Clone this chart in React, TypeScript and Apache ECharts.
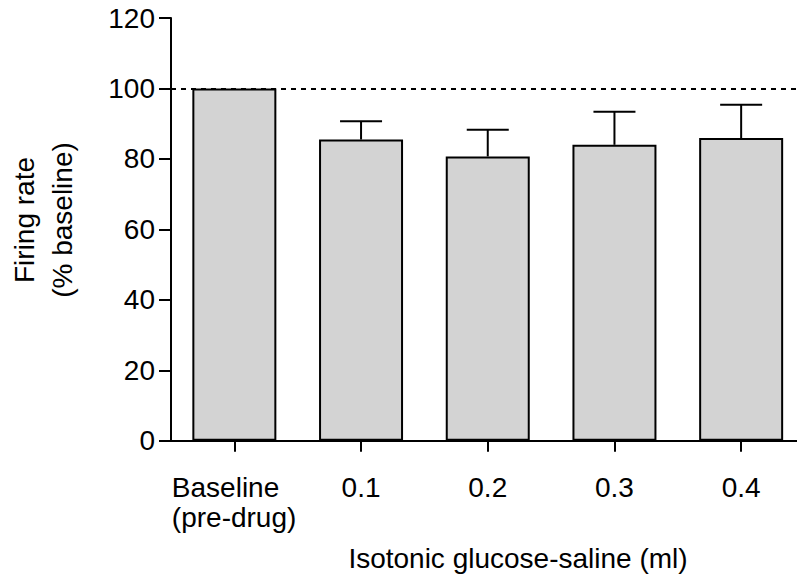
import React, { useEffect, useRef } from "react";
import * as echarts from "echarts";

// Categories along the x axis (first one is the pre-drug baseline)
const categories = ["Baseline\n(pre-drug)", "0.1", "0.2", "0.3", "0.4"];
// Mean firing rate, % of baseline
const meanRate = [100, 85.5, 80.7, 84.0, 85.9];
// Upper error (SEM), % of baseline
const semRate = [0, 5.2, 7.6, 9.4, 9.5];
// Y axis range and step
const yMin = 0;
const yMax = 120;
const yStep = 20;
// Reference level drawn as a dashed line
const baselineLevel = 100;

const FONT = "'Liberation Sans', Arial, Helvetica, sans-serif";

export default function App() {
  const ref = useRef<HTMLDivElement>(null);

  useEffect(() => {
    if (!ref.current) return;
    const chart = echarts.init(ref.current, undefined, { renderer: "svg" });

    const halfCap = 21;

    chart.setOption({
      animation: false,
      backgroundColor: "#ffffff",
      // plot area runs a little past the right edge of the canvas
      grid: {
        left: 171,
        top: 18,
        bottom: 138.3,
        width: 633.5,
        containLabel: false,
        outerBoundsMode: "none",
      },
      xAxis: {
        type: "category",
        data: categories,
        axisLine: { show: true, lineStyle: { color: "#000", width: 2 } },
        axisTick: { show: true, alignWithLabel: true, interval: 0, length: 11, lineStyle: { color: "#000", width: 2 } },
        axisLabel: {
          interval: 0,
          hideOverlap: false,
          color: "#000",
          fontFamily: FONT,
          fontSize: 28,
          lineHeight: 30,
          margin: 32,
          formatter: (v: string) =>
            v.indexOf("\n") >= 0
              ? v
                  .split("\n")
                  .map((s) => `{left|${s}}`)
                  .join("\n")
              : v,
          rich: {
            left: {
              width: 125,
              align: "left",
              fontFamily: FONT,
              fontSize: 28,
              lineHeight: 30,
              color: "#000",
            },
          },
        },
        splitLine: { show: false },
      },
      yAxis: {
        type: "value",
        min: yMin,
        max: yMax,
        interval: yStep,
        axisLine: { show: true, lineStyle: { color: "#000", width: 2 } },
        axisTick: { show: true, length: 12, lineStyle: { color: "#000", width: 2 } },
        axisLabel: { color: "#000", fontFamily: FONT, fontSize: 28, margin: 16 },
        splitLine: { show: false },
      },
      graphic: [
        {
          type: "text",
          x: 43,
          y: 220,
          rotation: Math.PI / 2,
          style: {
            text: "Firing rate\n(% baseline)",
            fontFamily: FONT,
            fontSize: 28,
            lineHeight: 38,
            fill: "#000",
            align: "center",
            verticalAlign: "middle",
          },
        },
        {
          type: "text",
          x: 518,
          y: 558,
          style: {
            text: "Isotonic glucose-saline (ml)",
            fontFamily: FONT,
            fontSize: 28,
            fill: "#000",
            align: "center",
            verticalAlign: "middle",
          },
        },
      ],
      series: [
        {
          type: "bar",
          data: meanRate,
          barWidth: 84,
          itemStyle: { color: "#d3d3d3", borderColor: "#000", borderWidth: 2 },
          markLine: {
            silent: true,
            symbol: "none",
            label: { show: false },
            lineStyle: { color: "#000", type: [5, 5], width: 2 },
            data: [{ yAxis: baselineLevel }],
          },
        },
        {
          type: "custom",
          data: meanRate.map((m, i) => [i, m, semRate[i]]),
          encode: { x: 0, y: 1 },
          z: 3,
          renderItem: (_params: any, api: any) => {
            const i = api.value(0);
            const m = api.value(1);
            const e = api.value(2);
            if (!e) return { type: "group", children: [] };
            const top = api.coord([i, m + e]);
            const base = api.coord([i, m]);
            const style = { stroke: "#000", lineWidth: 2 };
            return {
              type: "group",
              children: [
                { type: "line", shape: { x1: top[0], y1: base[1], x2: top[0], y2: top[1] }, style },
                { type: "line", shape: { x1: top[0] - halfCap, y1: top[1], x2: top[0] + halfCap, y2: top[1] }, style },
              ],
            };
          },
        },
      ],
    });

    return () => chart.dispose();
  }, []);

  return (
    <div
      ref={ref}
      style={{ position: "absolute", left: 0, top: 0, width: 797, height: 579 }}
    />
  );
}
